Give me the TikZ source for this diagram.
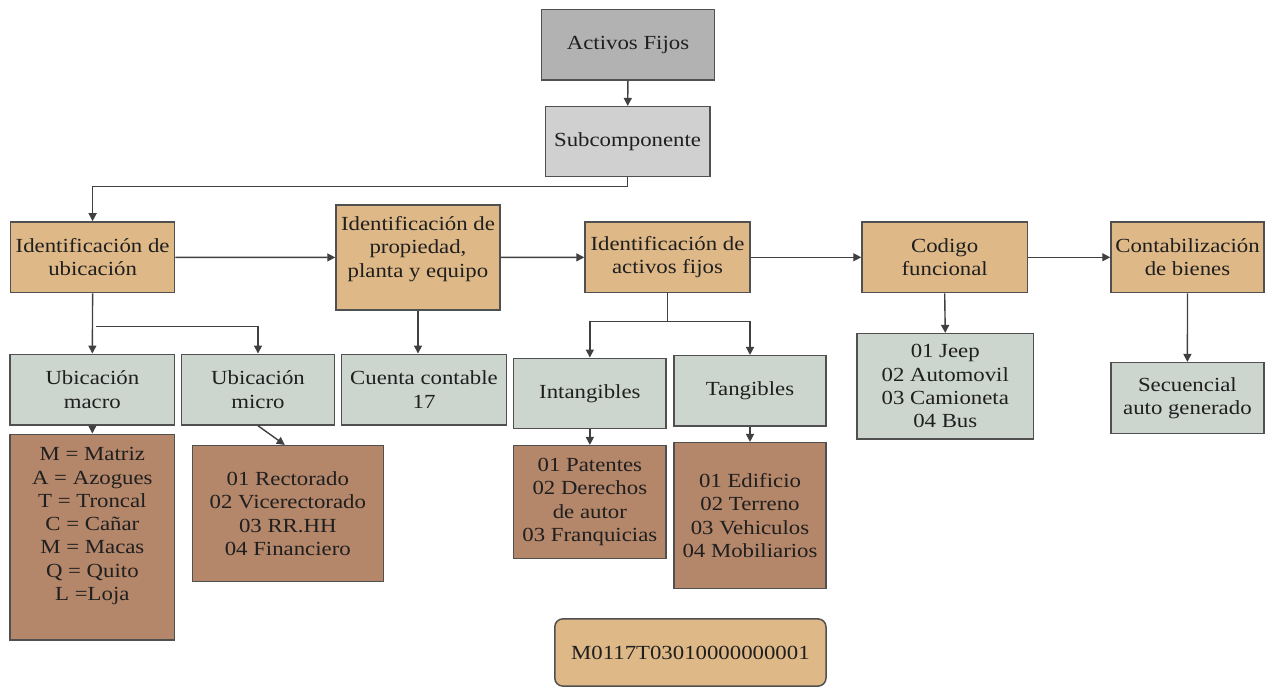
\documentclass[tikz,border=0pt]{standalone}
\usepackage{fontspec}
\setmainfont{Liberation Serif}[FakeStretch=1.14]
\usetikzlibrary{arrows.meta,calc}
\definecolor{gdark}{HTML}{B2B2B2}
\definecolor{glight}{HTML}{D0D0D0}
\definecolor{tanbox}{HTML}{DEB887}
\definecolor{sage}{HTML}{CCD6CF}
\definecolor{brn}{HTML}{B4866A}
\definecolor{edgec}{HTML}{505050}
\definecolor{wire}{HTML}{404040}
\begin{document}
\begin{tikzpicture}[x=0.5pt,y=-0.5pt,
  box/.style={draw=edgec, line width=0.75pt, align=center, inner sep=1pt,
    font=\fontsize{10}{11.65}\selectfont, text=black!88},
  txt/.style={align=center, inner sep=0pt, font=\fontsize{10}{11.65}\selectfont, text=black!88},
  arr/.style={draw=wire, line width=0.7pt, -{Triangle[length=4pt,width=4pt]}},
  ln/.style={draw=wire, line width=0.7pt}
]
\useasboundingbox (0,0) rectangle (1265,688);

% top
\node[box, fill=gdark, minimum width=86.5pt, minimum height=35.35pt] (af) at (628,44.7) {Activos Fijos};
\node[box, fill=glight, minimum width=82.35pt, minimum height=35pt] (sub) at (627.6,141.7) {Subcomponente};

% main row
\node[box, fill=tanbox, minimum width=81.9pt, minimum height=35.35pt] (idu) at (92.6,257.3) {Identificación de\\ubicación};
\node[box, fill=tanbox, minimum width=82pt, minimum height=52.5pt] (idp) at (418,257.5) {};
\node[txt] (idpt) at ([yshift=4.25pt]idp.center) {Identificación de\\propiedad,\\planta y equipo};
\node[box, fill=tanbox, minimum width=82.5pt, minimum height=35.35pt] (ida) at (667.5,257.3) {Identificación de\\activos fijos};
\node[box, fill=tanbox, minimum width=82.7pt, minimum height=35.35pt] (cf) at (944.7,257.3) {Codigo\\funcional};
\node[box, fill=tanbox, minimum width=76.5pt, minimum height=35.35pt] (cb) at (1187.5,257.3) {Contabilización\\de bienes};

% second row
\node[box, fill=sage, minimum width=82.35pt, minimum height=35.35pt] (macro) at (92.35,389.65) {Ubicación\\macro};
\node[box, fill=sage, minimum width=76.3pt, minimum height=35.35pt] (micro) at (258,389.65) {Ubicación\\micro};
\node[box, fill=sage, minimum width=82.7pt, minimum height=35.35pt] (cc) at (424,389.65) {Cuenta contable\\17};
\node[box, fill=sage, minimum width=76.15pt, minimum height=35pt] (int) at (589.85,393.3) {Intangibles};
\node[box, fill=sage, minimum width=76pt, minimum height=35.15pt] (tan) at (750,390.85) {Tangibles};
\node[box, fill=sage, minimum width=88.25pt, minimum height=52.65pt] (jeep) at (945.25,386.35) {01 Jeep\\02 Automovil\\03 Camioneta\\04 Bus};
\node[box, fill=sage, minimum width=76.4pt, minimum height=35.3pt] (sec) at (1187.4,398) {Secuencial\\auto generado};

% lists
\node[box, fill=brn, minimum width=82.35pt, minimum height=102.85pt] (mlist) at (92.35,537.15) {};
\node[txt] (mlistt) at ([yshift=5.5pt]mlist.center) {M = Matriz\\A = Azogues\\T = Troncal\\C = Cañar\\M = Macas\\Q = Quito\\L =Loja};
\node[box, fill=brn, minimum width=95.5pt, minimum height=68pt] (milist) at (287.8,513.7) {01 Rectorado\\02 Vicerectorado\\03 RR.HH\\04 Financiero};
\node[box, fill=brn, minimum width=76.15pt, minimum height=56.3pt] (ilist) at (589.85,502) {01 Patentes\\02 Derechos\\de autor\\03 Franquicias};
\node[box, fill=brn, minimum width=76pt, minimum height=73pt] (tlist) at (750,515.7) {01 Edificio\\02 Terreno\\03 Vehiculos\\04 Mobiliarios};

% code
\node[box, fill=tanbox, rounded corners=4pt, minimum width=135.6pt, minimum height=33.6pt] (code) at (690.4,652.5) {M0117T03010000000001};

% connectors
\draw[arr] (af) -- (sub);
\draw[arr] (sub.south) -- ++(0,9.3) -| (idu.north);
\draw[arr] (idu) -- (idp);
\draw[arr] (idp) -- (ida);
\draw[arr] (ida) -- (cf);
\draw[arr] (cf) -- (cb);

\draw[arr] (idu.south) -- (macro.north);
\draw[arr] ($(idu.south)+(3.3,33.3)$) -| (micro.north);
\draw[arr] (idp.south) -- (idp.south |- cc.north);
\coordinate (j1) at ($(ida.south)+(0,28)$);
\draw[ln] (ida.south) -- (j1);
\draw[arr] (j1) -| (int.north);
\draw[arr] (j1) -| (tan.north);
\draw[arr] (cf.south) -- (jeep.north);
\draw[arr] (cb.south) -- (sec.north);

\draw[arr] (macro.south) -- (mlist.north);
\draw[arr] (micro.south) -- ([xshift=-1.5pt]milist.north);
\draw[arr] (int.south) -- (ilist.north);
\draw[arr] (tan.south) -- (tlist.north);
\end{tikzpicture}
\end{document}
